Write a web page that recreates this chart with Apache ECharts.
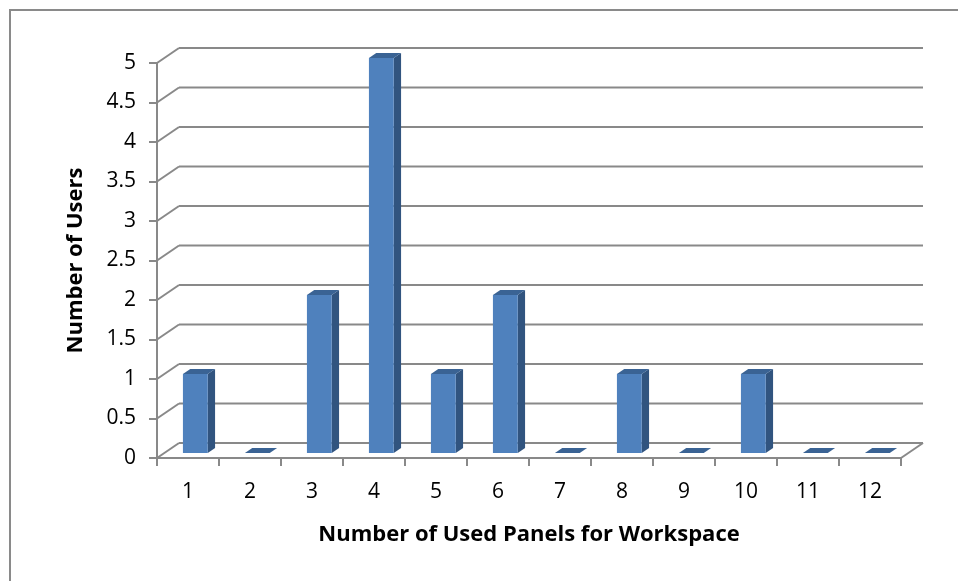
<!DOCTYPE html>
<html>
<head>
<meta charset="utf-8">
<script src="https://cdn.jsdelivr.net/npm/echarts@6/dist/echarts.min.js"></script>
<style>
  html, body { margin: 0; padding: 0; background: #ffffff; }
  #chart { width: 958px; height: 581px; }
</style>
</head>
<body>
<div id="chart"></div>
<script>
// Panel counts on the category axis and how many users used each
const categories = ['1', '2', '3', '4', '5', '6', '7', '8', '9', '10', '11', '12'];
const userCounts = [1, 0, 2, 5, 1, 2, 0, 1, 0, 1, 0, 0];
const yTicks = [0, 0.5, 1, 1.5, 2, 2.5, 3, 3.5, 4, 4.5, 5];

const xTitle = 'Number of Used Panels for Workspace';
const yTitle = 'Number of Users';

// Depth of the pseudo-3D box (full floor depth) in pixels
const DEPTH_X = 22;
const DEPTH_Y = -15;
const GRID_COLOR = '#898989';
const FONT = '"Open Sans", Lato, sans-serif';

const chart = echarts.init(document.getElementById('chart'), null, { renderer: 'canvas' });

// Back wall grid lines with their diagonal connectors to the front plane
function renderWall(params, api) {
  const v = api.value(0);
  const cs = params.coordSys;
  const y = api.coord([0, v])[1];
  const x0 = cs.x, x1 = cs.x + cs.width;
  const style = { stroke: GRID_COLOR, lineWidth: 2, fill: null };
  const children = [
    { type: 'line', shape: { x1: x0, y1: y, x2: x0 + DEPTH_X, y2: y + DEPTH_Y }, style: style },
    { type: 'line', shape: { x1: x0 + DEPTH_X, y1: y + DEPTH_Y, x2: x1 + DEPTH_X, y2: y + DEPTH_Y }, style: style }
  ];
  if (v === 0) {
    children.push({ type: 'line', shape: { x1: x1, y1: y, x2: x1 + DEPTH_X, y2: y + DEPTH_Y }, style: style });
  }
  return { type: 'group', children: children };
}

// Columns standing in the middle third of the floor depth
function renderBar(params, api) {
  const idx = api.value(0);
  const val = api.value(1);
  const base = api.coord([idx, 0]);
  const top = api.coord([idx, val]);
  const band = api.size([1, 0])[0];
  const w = band * 0.4;
  const fx = DEPTH_X / 3, fy = DEPTH_Y / 3;   // front face offset
  const dx = DEPTH_X / 3, dy = DEPTH_Y / 3;   // column depth
  const left = base[0] - w / 2 + fx;
  const right = left + w;
  const yb = base[1] + fy;
  const yt = top[1] + fy;
  const children = [];
  if (val > 0) {
    children.push({
      type: 'polygon',
      shape: { points: [[right, yt], [right + dx, yt + dy], [right + dx, yb + dy], [right, yb]] },
      style: { fill: '#31547F' }
    });
    children.push({
      type: 'rect',
      shape: { x: left, y: yt, width: w, height: yb - yt },
      style: { fill: '#4F81BD' }
    });
  }
  children.push({
    type: 'polygon',
    shape: { points: [[left, yt], [right, yt], [right + dx, yt + dy], [left + dx, yt + dy]] },
    style: { fill: '#3A6394' }
  });
  return { type: 'group', children: children };
}

chart.setOption({
  animation: false,
  backgroundColor: '#ffffff',
  graphic: [{
    type: 'rect',
    z: 0,
    shape: { x: 10, y: 10, width: 1000, height: 700 },
    style: { fill: null, stroke: '#8a8a8a', lineWidth: 2 }
  }],
  grid: { left: 157, right: 57, top: 63, bottom: 123 },
  xAxis: {
    type: 'category',
    data: categories,
    boundaryGap: true,
    name: xTitle,
    nameLocation: 'middle',
    nameGap: 66,
    nameTextStyle: { fontFamily: FONT, fontSize: 22, fontWeight: 'bold', color: '#000' },
    axisLine: { lineStyle: { color: GRID_COLOR, width: 2 } },
    axisTick: { show: true, length: 8, lineStyle: { color: GRID_COLOR, width: 2 } },
    axisLabel: { margin: 24, fontFamily: FONT, fontSize: 21, color: '#000' },
    splitLine: { show: false }
  },
  yAxis: {
    type: 'value',
    min: 0,
    max: 5,
    interval: 0.5,
    name: yTitle,
    nameLocation: 'middle',
    nameGap: 70,
    nameTextStyle: { fontFamily: FONT, fontSize: 22, fontWeight: 'bold', color: '#000' },
    axisLine: { show: true, lineStyle: { color: GRID_COLOR, width: 2 } },
    axisTick: { show: true, length: 8, lineStyle: { color: GRID_COLOR, width: 2 } },
    axisLabel: { margin: 21, fontFamily: FONT, fontSize: 21, color: '#000' },
    splitLine: { show: false }
  },
  series: [
    {
      type: 'custom',
      z: 1,
      renderItem: renderWall,
      data: yTicks.map(v => [v]),
      encode: { y: 0 },
      silent: true
    },
    {
      type: 'custom',
      z: 3,
      renderItem: renderBar,
      data: userCounts.map((v, i) => [i, v]),
      encode: { x: 0, y: 1 },
      silent: true
    }
  ]
});
</script>
</body>
</html>
